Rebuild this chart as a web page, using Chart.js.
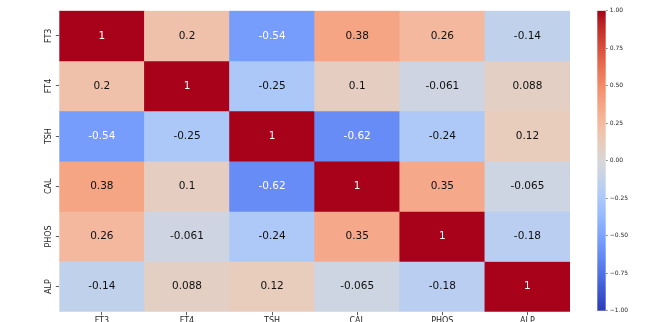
<!DOCTYPE html>
<html>
<head>
<meta charset="utf-8">
<script src="https://cdn.jsdelivr.net/npm/chart.js@4.4.0/dist/chart.umd.min.js"></script>
<style>
  html, body { margin: 0; padding: 0; background: #fff; }
  #wrap { position: relative; width: 669px; height: 322px; overflow: hidden; }
  #heat { position: absolute; left: 0; top: 0; }
  #cbar { position: absolute; left: 560px; top: 0; }
</style>
</head>
<body>
<div id="wrap">
  <canvas id="heat" width="669" height="322"></canvas>
  <canvas id="cbar" width="109" height="322"></canvas>
</div>
<script>
"use strict";
// correlation matrix, one array per row
var labels = ["FT3", "FT4", "TSH", "CAL", "PHOS", "ALP"];
var rowFT3 = [1, 0.2, -0.54, 0.38, 0.26, -0.14];
var rowFT4 = [0.2, 1, -0.25, 0.1, -0.061, 0.088];
var rowTSH = [-0.54, -0.25, 1, -0.62, -0.24, 0.12];
var rowCAL = [0.38, 0.1, -0.62, 1, 0.35, -0.065];
var rowPHOS = [0.26, -0.061, -0.24, 0.35, 1, -0.18];
var rowALP = [-0.14, 0.088, 0.12, -0.065, -0.18, 1];
var corr = [rowFT3, rowFT4, rowTSH, rowCAL, rowPHOS, rowALP];
var cbarTicks = [-1, -0.75, -0.5, -0.25, 0, 0.25, 0.5, 0.75, 1];

var FONT = "'DejaVu Sans', sans-serif";

/* coolwarm colormap, 33 stops from -1 to 1 */
var coolwarm = [
  [59,76,192],[68,90,204],[77,104,215],[87,117,225],[98,130,234],[108,142,241],
  [119,154,247],[130,165,251],[141,176,254],[152,185,255],[163,194,255],[174,201,253],
  [184,208,249],[194,213,244],[204,217,238],[213,219,230],[221,221,221],[229,216,209],
  [236,211,197],[241,204,185],[245,196,173],[247,187,160],[247,177,148],[247,166,135],
  [244,154,123],[241,141,111],[236,127,99],[229,112,89],[222,96,77],[213,80,66],
  [203,62,56],[192,40,47],[180,4,38]
];
var GAMMA = 1.2; // slightly deeper tones

function cmap(v) {
  var t = Math.max(0, Math.min(1, (v + 1) / 2)) * (coolwarm.length - 1);
  var i = Math.min(Math.floor(t), coolwarm.length - 2);
  var f = t - i;
  var a = coolwarm[i], b = coolwarm[i + 1];
  return [0, 1, 2].map(function(k) {
    var x = (a[k] + (b[k] - a[k]) * f) / 255;
    return Math.round(255 * Math.pow(x, GAMMA));
  });
}
function rgb(c) { return "rgb(" + c[0] + "," + c[1] + "," + c[2] + ")"; }

// white text on dark cells, black on light ones
function textColor(v) {
  var c = coolwarm[Math.round((v + 1) / 2 * (coolwarm.length - 1))];
  var lin = c.map(function(x) {
    x = x / 255;
    return x <= 0.03928 ? x / 12.92 : Math.pow((x + 0.055) / 1.055, 2.4);
  });
  var lum = 0.2126 * lin[0] + 0.7152 * lin[1] + 0.0722 * lin[2];
  return lum < 0.408 ? "#ffffff" : "#111111";
}

/* Cell values */
var annotate = {
  id: "annotate",
  afterDatasetsDraw: function(chart) {
    var ctx = chart.ctx;
    ctx.save();
    ctx.font = "10.5px " + FONT;
    ctx.textAlign = "center";
    ctx.textBaseline = "middle";
    corr.forEach(function(row, r) {
      var meta = chart.getDatasetMeta(r);
      meta.data.forEach(function(bar, c) {
        var p = bar.getCenterPoint();
        ctx.fillStyle = textColor(row[c]);
        ctx.fillText(String(row[c]), p.x, p.y);
      });
    });
    ctx.restore();
  }
};

/* ---------------------- HEATMAP --------------------*/
new Chart(document.getElementById("heat"), {
  type: "bar",
  data: {
    labels: labels,
    datasets: corr.map(function(row, r) {
      return {
        label: labels[r],
        data: row.map(function() { return [r, r + 1]; }),
        backgroundColor: row.map(function(v) { return rgb(cmap(v)); }),
        borderWidth: 0,
        barPercentage: 1,
        categoryPercentage: 1,
        grouped: false
      };
    })
  },
  options: {
    responsive: false,
    animation: false,
    layout: { padding: { left: 0, top: 10.7, right: 99, bottom: 0 } },
    plugins: { legend: { display: false }, tooltip: { enabled: false } },
    scales: {
      x: {
        grid: { drawOnChartArea: false, offset: false, tickLength: 3.5, color: "#333", tickWidth: 0.8 },
        border: { display: false },
        ticks: { font: { family: FONT, size: 8 }, color: "#262626", padding: 1, maxRotation: 0, autoSkip: false },
        afterFit: function(s) { s.height = 10.3; }
      },
      y: {
        type: "linear",
        reverse: true,
        min: 0,
        max: 6,
        afterBuildTicks: function(s) {
          s.ticks = labels.map(function(_, i) { return { value: i + 0.5 }; });
        },
        grid: { drawOnChartArea: false, tickLength: 3.5, color: "#333", tickWidth: 0.8 },
        border: { display: false },
        ticks: {
          callback: function(v, i) { return labels[i]; },
          font: { family: FONT, size: 8 },
          color: "#262626",
          minRotation: 90,
          maxRotation: 90,
          crossAlign: "center",
          padding: -4,
          autoSkip: false
        },
        afterFit: function(s) { s.width = 59.3; }
      }
    }
  },
  plugins: [annotate]
});

/* ---------------------- COLORBAR --------------------*/
new Chart(document.getElementById("cbar"), {
  type: "bar",
  data: {
    labels: [""],
    datasets: [{
      data: [[-1, 1]],
      backgroundColor: function(ctx) {
        var area = ctx.chart.chartArea;
        if (!area) return null;
        var g = ctx.chart.ctx.createLinearGradient(0, area.bottom, 0, area.top);
        var n = 64;
        for (var i = 0; i <= n; i++) {
          g.addColorStop(i / n, rgb(cmap(-1 + 2 * i / n)));
        }
        return g;
      },
      borderWidth: 0,
      barPercentage: 1,
      categoryPercentage: 1
    }]
  },
  options: {
    responsive: false,
    animation: false,
    layout: { padding: { left: 37.3, top: 10.7, right: 33.3, bottom: 11.3 } },
    plugins: { legend: { display: false }, tooltip: { enabled: false } },
    scales: {
      x: { display: false },
      y: {
        position: "right",
        min: -1,
        max: 1,
        afterBuildTicks: function(s) {
          s.ticks = cbarTicks.map(function(v) { return { value: v }; });
        },
        grid: { drawOnChartArea: false, tickLength: 2, color: "#333", tickWidth: 0.6 },
        border: { display: false },
        ticks: {
          callback: function(v) { return v.toFixed(2).replace("-", "\u2212"); },
          font: { family: FONT, size: 6 },
          color: "#262626",
          padding: 2,
          autoSkip: false
        },
        afterFit: function(s) { s.width = 30; }
      }
    }
  }
});
</script>
</body>
</html>
